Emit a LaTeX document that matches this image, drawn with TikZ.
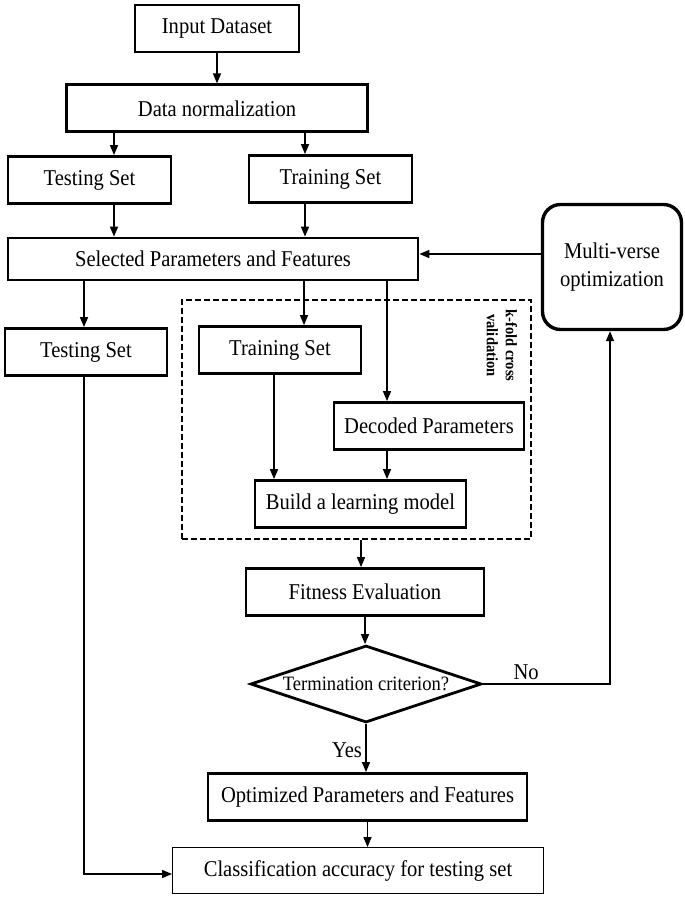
\documentclass[tikz,border=0pt]{standalone}
\usepackage{fontspec}
\setmainfont{Liberation Serif}[FakeStretch=0.91]
\usetikzlibrary{arrows.meta, positioning, shapes.geometric}

\begin{document}
\begin{tikzpicture}[
x=1pt, y=-1pt,
     base/.style = {draw, line width=2.8pt, align=center, inner sep=0pt,
                    minimum height=47pt,
                    font=\fontsize{22.6}{28}\selectfont},
  process/.style = {base},
   result/.style = {base, line width=0.9pt},
   search/.style = {base, line width=3.4pt, rounded corners=18pt},
 decision/.style = {base, diamond, aspect=2.9,
                    font=\fontsize{20.4}{24}\selectfont},
  cvframe/.style = {draw, line width=2.2pt, dash pattern=on 6pt off 3pt},
    arrow/.style = {-{Triangle[length=10pt, width=8pt]}, line width=1.4pt},
    label/.style = {font=\fontsize{22.6}{26}\selectfont}
                    ]
\useasboundingbox (0,0) rectangle (685,897);
 % main
\node (input)   [process, minimum width=164pt] at (217,28.5) {Input Dataset};
\node (norm)    [process, minimum width=301pt, below=30pt of input] {Data normalization};
\node (test1)   [process, minimum width=163pt] at (89.5,180)  {Testing Set};
\node (train1)  [process, minimum width=163pt] at (330.5,179) {Training Set};
\node (select)  [process, minimum width=410pt, minimum height=42pt] at (213,259) {Selected Parameters and Features};
\node (mvo)     [search, minimum width=139pt, minimum height=125pt] at (612,267) {Multi-verse\\optimization};
\node (test2)   [process, minimum width=162pt] at (86,352)  {Testing Set};
\node (train2)  [process, minimum width=162pt] at (280,350) {Training Set};
\node (decoded) [process, minimum width=190pt] at (429,426) {Decoded Parameters};
\node (build)   [process, minimum width=211pt] at (360.5,504) {Build a learning model};
\node (fold)    [cvframe, minimum width=349pt, minimum height=239pt] at (356.5,419.5) {};
\node (foldlbl) [rotate=-90, align=center, font=\fontsize{16}{19}\bfseries] at (502,345.5) {k-fold cross\\validation};
\node (fitness) [process, minimum width=238pt] at (365,592) {Fitness Evaluation};
\node (crit)    [decision, minimum width=231pt, minimum height=77pt] at (366,684) {Termination criterion?};
\node (optim)   [process, minimum width=319pt] at (367.5,797) {Optimized Parameters and Features};
\node (accur)   [result, minimum width=371pt, minimum height=46pt] at (358,870.5) {Classification accuracy for testing set};

% connectors
\draw[arrow] (input) -- (norm);
\draw[arrow] ([xshift=24.5pt]test1.north |- norm.south) -- ([xshift=24.5pt]test1.north);
\draw[arrow] ([xshift=-25.5pt]train1.north |- norm.south) -- ([xshift=-25.5pt]train1.north);
\draw[arrow] ([xshift=24.5pt]test1.south) -- ([xshift=24.5pt]test1.south |- select.north);
\draw[arrow] ([xshift=-25.5pt]train1.south) -- ([xshift=-25.5pt]train1.south |- select.north);
\draw[arrow] ([yshift=13pt]mvo.west) -- ([yshift=13pt]mvo.west -| select.east);

\draw[arrow] ([xshift=-2pt]test2.north |- select.south) -- ([xshift=-2pt]test2.north);
\draw[arrow] ([xshift=24pt]train2.north |- select.south) -- ([xshift=24pt]train2.north);
\draw[arrow] ([xshift=-42pt]decoded.north |- select.south) -- ([xshift=-42pt]decoded.north);
\draw[arrow] ([xshift=-6pt]train2.south) -- ([xshift=-6pt]train2.south |- build.north);
\draw[arrow] ([xshift=-42pt]decoded.south) -- ([xshift=-42pt]decoded.south |- build.north);

\draw[arrow] ([xshift=-4pt]fitness.north |- fold.south) -- ([xshift=-4pt]fitness.north);
\draw[arrow] (fitness.south) -- (fitness.south |- crit.north);
\draw[arrow] (crit.south) -- node[left, pos=0.55, label] {Yes} (crit.south |- optim.north);
\draw[arrow] (optim.south) -- (optim.south |- accur.north);
\draw[arrow] (crit.east) -| node[above, pos=0.17, label] {No} ([xshift=-2pt]mvo.south);
\draw[arrow] ([xshift=-2pt]test2.south) |- ([yshift=-3.5pt]accur.west);
\end{tikzpicture}
\end{document}
